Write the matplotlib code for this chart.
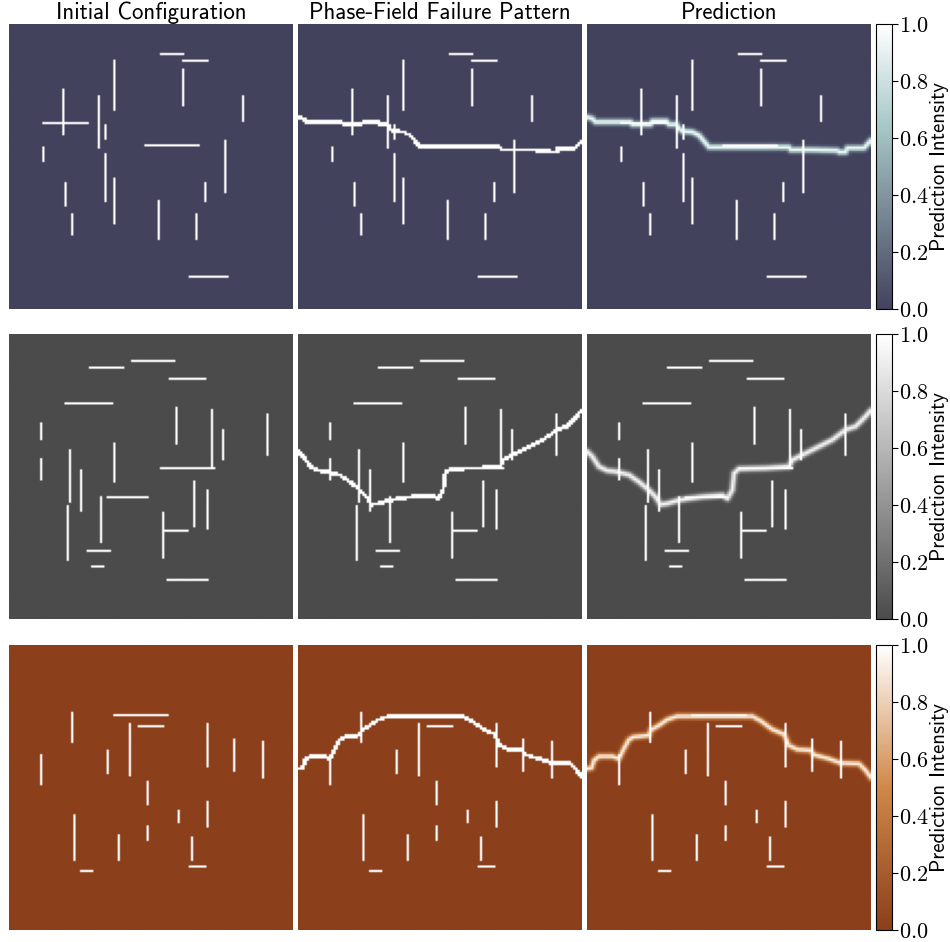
"""
Crack configurations, phase-field failure patterns and predictions
"""

import matplotlib
matplotlib.use("Agg")
import matplotlib.pyplot as plt
import numpy as np
from matplotlib.colors import LinearSegmentedColormap

plt.rcParams['mathtext.fontset'] = 'cm'

######################################################################
# Data, grid units (128 x 128 cells)
N = 128

column_titles = ["Initial Configuration", "Phase-Field Failure Pattern", "Prediction"]
cbar_ticks = [0.0, 0.2, 0.4, 0.6, 0.8, 1.0]
cbar_label = "Prediction Intensity"

# horizontal cracks: (row, col_start, col_end)
h_cracks_1 = [(13.4, 68, 79), (16.5, 78, 90), (44.5, 15, 36), (54.7, 61, 86), (113.7, 81, 99)]
# vertical cracks: (col, row_start, row_end)
v_cracks_1 = [(24.5, 29, 50), (40.3, 32, 56), (47.5, 16, 39), (43.4, 45, 52), (78.4, 20, 37),
              (105.4, 32, 44), (15.3, 55, 62), (97.5, 52, 76), (43.6, 58, 80), (47.5, 69, 90),
              (25.4, 71, 82), (28.5, 85, 95), (67.4, 79, 97), (88.5, 71, 80), (84.4, 85, 97)]
# failure path: (col, row)
path_1 = [(0, 41.8), (2.4, 42.5), (3.9, 44.0), (19.7, 44.0), (20.4, 45.1), (28.7, 45.1),
          (29.4, 43.6), (35.8, 43.6), (37.0, 45.1), (40.3, 45.1), (41.5, 47.0), (43.0, 48.1),
          (47.5, 48.5), (50.5, 50.0), (55.0, 55.3), (91.0, 55.3), (91.8, 56.5), (101.6, 56.5),
          (112.8, 56.8), (113.6, 57.5), (116.6, 57.5), (117.3, 55.7), (124.8, 55.7), (128, 52.3)]

h_cracks_2 = [(12.5, 55, 75), (15.5, 36, 52), (20.4, 72, 89), (31.6, 25, 47), (60.5, 68, 93),
              (73.6, 44, 63), (88.6, 70, 81), (97.7, 35, 46), (104.9, 37, 43), (110.7, 71, 90)]
v_cracks_2 = [(14.6, 40, 48), (14.6, 56, 66), (27.5, 52, 76), (32.5, 61, 80), (47.5, 49, 67),
              (41.5, 73, 94), (26.6, 77, 102), (75.6, 33, 50), (91.5, 34, 60), (96.6, 43, 57),
              (116.4, 36, 55), (83.5, 66, 87), (89.5, 70, 88), (69.4, 80, 101)]
path_2 = [(0, 53.0), (2.4, 55.3), (5.4, 59.8), (9.2, 61.6), (12.9, 62.0), (18.9, 63.5),
          (23.4, 66.6), (27.9, 70.3), (30.9, 73.3), (33.2, 76.8), (36.2, 76.3), (41.5, 74.8),
          (45.9, 74.1), (51.9, 73.3), (61.0, 72.6), (63.3, 74.1), (65.5, 70.3), (66.3, 62.8),
          (68.5, 60.8), (80.5, 60.5), (91.0, 59.8), (92.6, 56.8), (98.6, 53.8), (104.6, 50.8),
          (110.6, 47.8), (116.6, 43.3), (121.1, 41.8), (125.6, 37.3), (128, 34.6)]

h_cracks_3 = [(31.5, 47, 72), (36.5, 58, 70), (101.7, 32, 38), (99.8, 81, 89)]
v_cracks_3 = [(28.5, 30, 44), (14.6, 49, 63), (44.3, 47, 58), (54.4, 35, 59), (89.5, 35, 55),
              (101.6, 42, 57), (114.5, 43, 60), (62.5, 61, 72), (76.5, 74, 80), (89.5, 70, 82),
              (62.5, 81, 88), (29.4, 76, 97), (49.4, 85, 97), (82.5, 86, 97)]
path_3 = [(0, 55.6), (2.1, 55.1), (3.2, 51.8), (5.4, 50.0), (11.4, 50.0), (14.4, 51.1),
          (16.6, 46.6), (18.9, 42.5), (21.0, 41.3), (27.9, 40.6), (28.7, 38.3), (32.4, 36.1),
          (36.2, 33.5), (40.7, 32.0), (74.5, 32.0), (78.3, 34.1), (83.5, 37.9), (88.8, 40.1),
          (91.0, 45.1), (94.8, 46.9), (100.8, 47.3), (102.3, 49.3), (109.1, 51.1), (114.3, 53.0),
          (122.6, 53.3), (125.6, 56.3), (128, 59.6)]

samples = [(h_cracks_1, v_cracks_1, path_1),
           (h_cracks_2, v_cracks_2, path_2),
           (h_cracks_3, v_cracks_3, path_3)]

cmaps = [LinearSegmentedColormap.from_list("slate", [(0, "#43425d"), (0.65, "#a8c9c9"), (1, "#ffffff")]),
         LinearSegmentedColormap.from_list("greys", [(0, "#4b4b4b"), (1, "#ffffff")]),
         LinearSegmentedColormap.from_list("brown", [(0, "#8b3f1b"), (0.5, "#d08848"), (1, "#ffffff")])]


######################################################################
# Rasterize cracks and failure paths onto the grid
yy, xx = np.mgrid[0:N, 0:N] + 0.5


def crack_field(h_cracks, v_cracks):
    img = np.zeros((N, N))
    for r, c0, c1 in h_cracks:
        img[int(r), int(round(c0)):int(round(c1))] = 1.0
    for c, r0, r1 in v_cracks:
        img[int(round(r0)):int(round(r1)), int(c)] = 1.0
    return img


def path_distance(path):
    p = np.asarray(path, float)
    d = np.full((N, N), np.inf)
    for (x0, y0), (x1, y1) in zip(p[:-1], p[1:]):
        dx, dy = x1 - x0, y1 - y0
        t = np.clip(((xx - x0) * dx + (yy - y0) * dy) / (dx * dx + dy * dy), 0, 1)
        d = np.minimum(d, np.hypot(xx - x0 - t * dx, yy - y0 - t * dy))
    return d


######################################################################
# Figure layout in pixels
W, H = 950, 942
col_x = [9, 298, 587]
row_y = [24, 334, 645]
panel_w, panel_h = 284, 285
cbar_x, cbar_w = 876, 16


def px_rect(x, y, w, h):
    return [x / W, 1 - (y + h) / H, w / W, h / H]


fig = plt.figure(figsize=(W / 100, H / 100), dpi=100)

for i, (h_cracks, v_cracks, path) in enumerate(samples):
    cracks = crack_field(h_cracks, v_cracks)
    d = path_distance(path)
    phase_field = np.maximum(cracks, (d <= 0.85).astype(float))
    prediction = np.maximum(cracks, 0.95 * np.exp(-0.5 * (d / 0.95) ** 2))

    for j, img in enumerate([cracks, phase_field, prediction]):
        ax = fig.add_axes(px_rect(col_x[j], row_y[i], panel_w, panel_h))
        im = ax.imshow(img, cmap=cmaps[i], vmin=0, vmax=1, extent=[0, N, N, 0], aspect='auto')
        ax.axis('off')
        if i == 0:
            ax.set_title(column_titles[j], fontfamily='cmss10', fontsize=16.5, pad=1)

    cax = fig.add_axes(px_rect(cbar_x, row_y[i], cbar_w, panel_h))
    cbar = fig.colorbar(im, cax=cax)
    cbar.set_ticks(cbar_ticks)
    cbar.set_ticklabels(["$%.1f$" % t for t in cbar_ticks])
    cax.tick_params(labelsize=16, length=4, width=0.8, pad=1)
    cbar.outline.set_linewidth(0.8)
    cbar.set_label(cbar_label, fontfamily='cmss10', fontsize=15, labelpad=1)

fig.savefig("out.png", dpi=100)
